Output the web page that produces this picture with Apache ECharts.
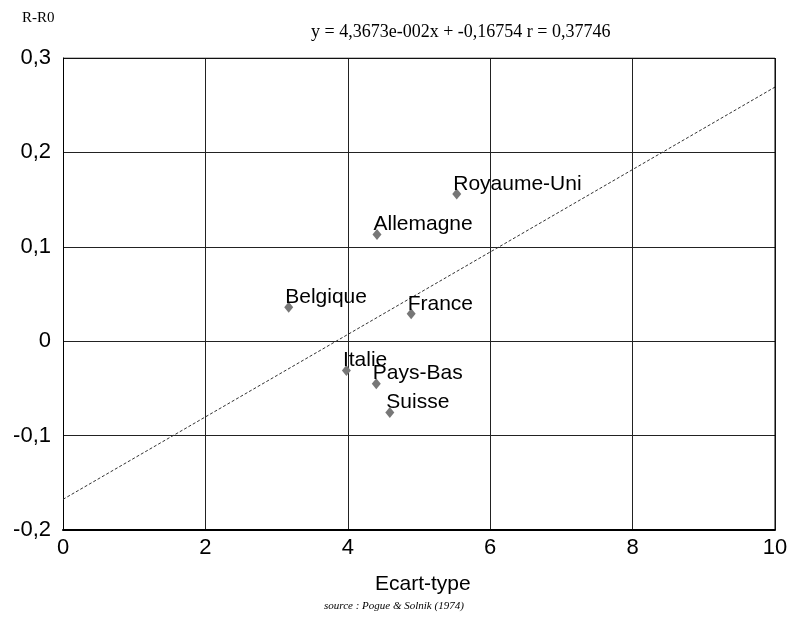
<!DOCTYPE html>
<html><head><meta charset="utf-8">
<script src="https://cdn.jsdelivr.net/npm/echarts@6/dist/echarts.min.js"></script>
<style>html,body{margin:0;padding:0;background:#fff}#c{width:795px;height:625px}</style>
</head><body><div id="c"></div>
<script>
const countries = ['Royaume-Uni','Allemagne','Belgique','France','Italie','Pays-Bas','Suisse'];
const ecartType = [5.53, 4.41, 3.17, 4.89, 3.98, 4.40, 4.59];
const rMinusR0 = [0.156, 0.113, 0.036, 0.029, -0.031, -0.045, -0.0755];
const lineX = [0, 10];
const lineY = [-0.16754, 0.26919];
const xTicks = [0, 2, 4, 6, 8, 10];
const yTicks = [-0.2, -0.1, 0, 0.1, 0.2, 0.3];

const fmt = v => Math.abs(v) < 1e-9 ? '0' : (Math.round(v*10)/10).toString().replace('.', ',');
const chart = echarts.init(document.getElementById('c'), null, {renderer:'canvas'});
const SANS = '"Liberation Sans", Arial, sans-serif';
chart.setOption({
  backgroundColor:'#fff',
  animation:false,
  grid:{left:63, right:20, top:58, bottom:95},
  graphic:[
    {type:'text', left:22, top:11, style:{text:'R-R0', font:'15px "Liberation Serif", serif', fill:'#000'}},
    {type:'text', left:311, top:23, style:{text:'y = 4,3673e-002x + -0,16754 r = 0,37746', font:'18px "Liberation Serif", serif', fill:'#000'}},
    {type:'text', left:375, top:574, style:{text:'Ecart-type', font:'21px ' + SANS, fill:'#000'}},
    {type:'text', left:324, top:601, style:{text:'source : Pogue & Solnik (1974)', font:'italic 11px "Liberation Serif", serif', fill:'#000'}}
  ],
  xAxis:{type:'value', min:xTicks[0], max:xTicks[xTicks.length-1], interval:2,
    axisLine:{show:true, onZero:false, lineStyle:{color:'#000', width:2}},
    axisTick:{show:false},
    splitLine:{show:true, lineStyle:{color:'#222', width:1}},
    axisLabel:{color:'#000', fontSize:22, fontFamily:SANS, margin:7, formatter:v=>String(v)}
  },
  yAxis:{type:'value', min:yTicks[0], max:yTicks[yTicks.length-1], interval:0.1,
    axisLine:{show:true, onZero:false, lineStyle:{color:'#000', width:1}},
    axisTick:{show:false},
    splitLine:{show:true, lineStyle:{color:'#222', width:1}},
    axisLabel:{color:'#000', fontSize:22, fontFamily:SANS, margin:12, formatter:fmt}
  },
  series:[
    {type:'line', data:lineX.map((x,i)=>[x,lineY[i]]), symbol:'none', silent:true,
      lineStyle:{color:'#333', width:1, type:[3,2]}, z:2},
    {type:'line', data:[[10,0.3],[10,-0.2]], symbol:'none', silent:true, lineStyle:{color:'#000', width:1}, z:3},
    {type:'line', data:[[0,0.3],[10,0.3]], symbol:'none', silent:true, lineStyle:{color:'#000', width:1}, z:3},
    {type:'scatter', data:ecartType.map((x,i)=>[x,rMinusR0[i],countries[i]]),
      symbol:'diamond', symbolSize:[9,11], itemStyle:{color:'#777', opacity:1}, z:4,
      label:{show:true, formatter:p=>p.data[2], position:'right', distance:0, offset:[-8,-10],
        color:'#000', opacity:1, fontSize:21, fontFamily:SANS}}
  ]
});
</script></body></html>
